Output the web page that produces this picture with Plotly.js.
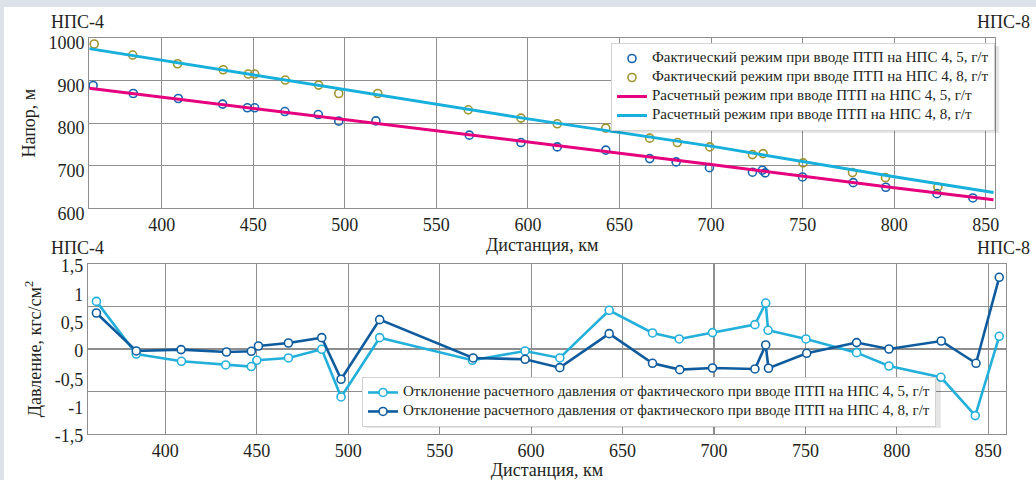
<!DOCTYPE html>
<html>
<head>
<meta charset="utf-8">
<script src="https://cdn.plot.ly/plotly-3.0.1.min.js"></script>
<style>
html,body{margin:0;padding:0;background:#dde1e8;width:1036px;height:480px;overflow:hidden;}
#chart{position:absolute;left:4px;top:7px;width:1032px;height:473px;background:#fff;}
</style>
</head>
<body>
<div id="chart"></div>
<script>
// ---- Top chart: head (Напор, м) ----
const factDist45 = [362.6, 384.5, 409.1, 433.3, 446.8, 450.8, 467.3, 485.5, 496.7, 517.0, 568.0, 596.2, 616.0, 642.5, 666.5, 680.9, 699.1, 722.6, 728.0, 729.5, 749.9, 777.6, 795.4, 823.3, 842.9];
const factHead45 = [888.5, 869.6, 857.9, 844.7, 836.0, 836.0, 827.3, 820.2, 804.7, 805.4, 771.8, 754.4, 744.2, 736.5, 716.7, 708.9, 695.5, 684.7, 689.4, 683.1, 673.6, 660.2, 649.4, 634.4, 624.2];
const factDist48 = [363.2, 384.2, 408.7, 433.6, 447.3, 450.8, 467.5, 485.7, 496.7, 518.0, 567.4, 596.2, 616.0, 642.5, 666.5, 681.6, 699.3, 722.6, 728.4, 750.2, 777.2, 795.2, 823.8, 855.6];
const factHead48 = [985.9, 960.0, 939.5, 925.4, 915.3, 915.3, 901.2, 889.4, 869.6, 869.6, 831.3, 811.8, 798.4, 788.2, 764.7, 754.4, 744.2, 726.1, 728.5, 706.6, 683.8, 672.0, 650.1, 635.3];
const calcDist = [360.5, 400, 500, 600, 700, 800, 854.2];
const calcHead45 = [882, 861, 808, 755, 703, 648, 620];
const calcHead48 = [975, 948, 878, 810, 746, 674, 637];

// ---- Bottom chart: pressure deviation (Давление, кгс/см2) ----
const devDist45 = [362.3, 384.1, 408.8, 433.0, 447.0, 450.0, 467.3, 485.5, 496.1, 517.2, 567.9, 596.7, 615.7, 642.7, 666.4, 681.0, 699.2, 722.4, 728.3, 729.6, 750.3, 778.0, 795.7, 824.1, 842.9, 856.0];
const devVal45 = [0.84, -0.088, -0.217, -0.282, -0.31, -0.199, -0.158, -0.005, -0.846, 0.2, -0.199, -0.035, -0.158, 0.683, 0.283, 0.177, 0.289, 0.43, 0.811, 0.33, 0.177, -0.064, -0.3, -0.499, -1.175, 0.224];
const devDist48 = [362.3, 384.1, 408.6, 433.4, 447.0, 450.9, 467.3, 485.5, 496.1, 517.2, 568.3, 596.7, 615.7, 642.7, 666.4, 681.3, 699.2, 722.4, 728.3, 729.8, 750.7, 778.0, 795.7, 824.3, 843.3, 856.0];
const devVal48 = [0.635, -0.035, -0.011, -0.053, -0.041, 0.053, 0.106, 0.2, -0.534, 0.518, -0.158, -0.182, -0.329, 0.271, -0.252, -0.364, -0.335, -0.352, 0.071, -0.34, -0.076, 0.113, 0.0, 0.141, -0.252, 1.265];

const headTickVals = [600, 700, 800, 900, 1000];
const distTickVals = [400, 450, 500, 550, 600, 650, 700, 750, 800, 850];
const devTickVals = [-1.5, -1, -0.5, 0, 0.5, 1, 1.5];
const devTickText = ['-1,5', '-1', '-0,5', '0', '0,5', '1', '1,5'];

const names = [
  'Фактический режим при вводе ПТП на НПС 4, 5, г/т',
  'Фактический режим при вводе ПТП на НПС 4, 8, г/т',
  'Расчетный режим при вводе ПТП на НПС 4, 5, г/т',
  'Расчетный режим при вводе ПТП на НПС 4, 8, г/т',
  'Отклонение расчетного давления от фактического при вводе ПТП на НПС 4, 5, г/т',
  'Отклонение расчетного давления от фактического при вводе ПТП на НПС 4, 8, г/т'
];
const wrap = s => '<span style="font-size:15px">' + s + '</span>';

const FONT = '"Liberation Serif", "DejaVu Serif", serif';
const GRID = '#8e8e8e';
const TXT = '#231f20';

const traces = [
  {x: factDist45, y: factHead45, name: wrap(names[0]), type: 'scatter', mode: 'markers', cliponaxis: false,
   marker: {symbol: 'circle-open', size: 8, color: '#1565ad', line: {width: 1.6}}, xaxis: 'x', yaxis: 'y', legend: 'legend'},
  {x: factDist48, y: factHead48, name: wrap(names[1]), type: 'scatter', mode: 'markers', cliponaxis: false,
   marker: {symbol: 'circle-open', size: 8, color: '#a0942e', line: {width: 1.6}}, xaxis: 'x', yaxis: 'y', legend: 'legend'},
  {x: calcDist, y: calcHead45, name: wrap(names[2]), type: 'scatter', mode: 'lines',
   line: {color: '#e6007e', width: 3}, xaxis: 'x', yaxis: 'y', legend: 'legend'},
  {x: calcDist, y: calcHead48, name: wrap(names[3]), type: 'scatter', mode: 'lines',
   line: {color: '#17afdb', width: 3}, xaxis: 'x', yaxis: 'y', legend: 'legend'},
  {x: devDist45, y: devVal45, name: wrap(names[4]), type: 'scatter', mode: 'lines+markers', cliponaxis: false,
   line: {color: '#22b0da', width: 2.6}, marker: {symbol: 'circle', size: 8, color: '#ffffff', line: {color: '#22b0da', width: 1.6}},
   xaxis: 'x2', yaxis: 'y2', legend: 'legend2'},
  {x: devDist48, y: devVal48, name: wrap(names[5]), type: 'scatter', mode: 'lines+markers', cliponaxis: false,
   line: {color: '#0e5c9e', width: 2.6}, marker: {symbol: 'circle', size: 8, color: '#ffffff', line: {color: '#0e5c9e', width: 1.6}},
   xaxis: 'x2', yaxis: 'y2', legend: 'legend2'}
];

const axisCommon = {
  showgrid: true, gridcolor: GRID, gridwidth: 1.1,
  showline: true, mirror: true, linecolor: GRID, linewidth: 1.1,
  ticks: '', zeroline: false,
  tickfont: {family: FONT, size: 18, color: TXT}
};

const layout = {
  width: 1032, height: 473,
  margin: {l: 84, r: 30, t: 31, b: 46},
  paper_bgcolor: '#ffffff', plot_bgcolor: '#ffffff',
  font: {family: FONT, color: TXT},
  showlegend: true,
  xaxis: Object.assign({}, axisCommon, {
    domain: [0.0014, 0.988], anchor: 'y', range: [360.5, 855], tickvals: distTickVals,
    title: {text: 'Дистанция, км', font: {family: FONT, size: 18, color: TXT}, standoff: 4}
  }),
  yaxis: Object.assign({}, axisCommon, {
    domain: [0.570, 1.0], anchor: 'x', range: [600, 1000], tickvals: headTickVals,
    ticklabelshift: 5,
    title: {text: 'Напор, м', font: {family: FONT, size: 18, color: TXT}, standoff: 8}
  }),
  xaxis2: Object.assign({}, axisCommon, {
    domain: [0, 1], anchor: 'y2', range: [357.7, 859.7], tickvals: distTickVals,
    title: {text: 'Дистанция, км', font: {family: FONT, size: 18, color: TXT}, standoff: 0}
  }),
  yaxis2: Object.assign({}, axisCommon, {
    domain: [0, 0.4293], anchor: 'x2', range: [-1.5, 1.5], tickvals: devTickVals, ticktext: devTickText,
    ticklabelshift: 2,
    showgrid: false, zeroline: true, zerolinecolor: GRID, zerolinewidth: 1.1,
    minor: {tickvals: [-0.75, 0.75], showgrid: true, gridcolor: GRID, gridwidth: 1.1, ticks: ''},
    title: {text: 'Давление, кгс/см<sup>2</sup>', font: {family: FONT, size: 18, color: TXT}, standoff: 8}
  }),
  legend: {
    x: 0.988, xanchor: 'right', y: 0.9874, yanchor: 'top',
    bgcolor: '#ffffff', bordercolor: '#d2d2d2', borderwidth: 1,
    font: {family: FONT, size: 9.6, color: TXT}, tracegroupgap: 0
  },
  legend2: {
    x: 0.2985, xanchor: 'left', y: 0.144, yanchor: 'top',
    bgcolor: '#ffffff', bordercolor: '#d2d2d2', borderwidth: 1,
    font: {family: FONT, size: 9.6, color: TXT}, tracegroupgap: 0
  },
  shapes: [
    {type: 'rect', xref: 'paper', yref: 'paper', x0: 0.5700, x1: 0.9925, y0: 0.7600, y1: 0.9790, fillcolor: 'rgba(0,0,0,0.10)', line: {width: 0}, layer: 'above'},
    {type: 'rect', xref: 'paper', yref: 'paper', x0: 0.3020, x1: 0.9290, y0: 0.0150, y1: 0.1400, fillcolor: 'rgba(0,0,0,0.10)', line: {width: 0}, layer: 'above'}
  ],
  annotations: [
    {text: 'НПС-4', xref: 'paper', yref: 'paper', x: -0.0425, y: 1.04, xanchor: 'left', yanchor: 'middle', showarrow: false, font: {family: FONT, size: 18, color: TXT}},
    {text: 'НПС-8', xref: 'paper', yref: 'paper', x: 1.0283, y: 1.04, xanchor: 'right', yanchor: 'middle', showarrow: false, font: {family: FONT, size: 18, color: TXT}},
    {text: 'НПС-4', xref: 'paper', yref: 'paper', x: -0.0425, y: 0.47, xanchor: 'left', yanchor: 'middle', showarrow: false, font: {family: FONT, size: 18, color: TXT}},
    {text: 'НПС-8', xref: 'paper', yref: 'paper', x: 1.0283, y: 0.47, xanchor: 'right', yanchor: 'middle', showarrow: false, font: {family: FONT, size: 18, color: TXT}}
  ]
};

Plotly.newPlot('chart', traces, layout, {displayModeBar: false, responsive: false, staticPlot: true});
</script>
</body>
</html>
